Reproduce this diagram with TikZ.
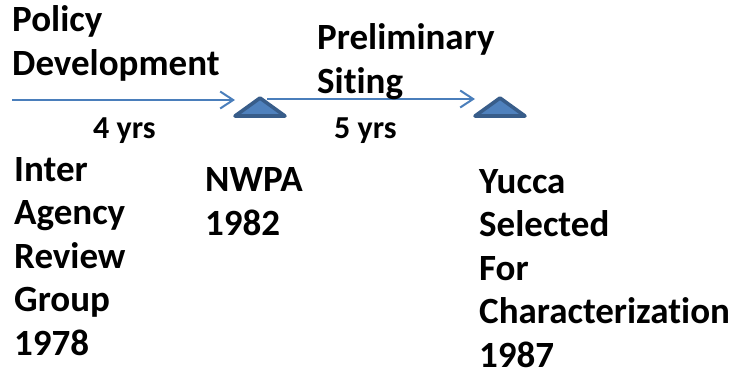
\documentclass[tikz,border=0pt]{standalone}
\usepackage{fontspec}
\setmainfont{Carlito}[Ligatures=NoCommon]
\usetikzlibrary{arrows.meta}
\definecolor{lineblue}{HTML}{4A7EBB}
\definecolor{triblue}{HTML}{4F81BD}
\definecolor{triedge}{HTML}{385D8A}
\tikzset{
  big/.style={font=\fontsize{37}{43.5}\selectfont\bfseries, inner sep=0pt, align=left, anchor=base west},
  small/.style={font=\fontsize{32}{36}\selectfont\bfseries, inner sep=0pt, anchor=base west},
  span/.style={lineblue, line width=2pt, -{Straight Barb[length=13pt,width=17pt]}},
  mark tri/.style={fill=triblue, draw=triedge, line width=3.6pt, line join=round}
}
\begin{document}
\begin{tikzpicture}[x=1pt,y=-1pt]
\useasboundingbox (0,0) rectangle (736,378);

% milestones
\draw[mark tri] (235,116) -- (260,98) -- (285,116) -- cycle;
\draw[mark tri] (475,116) -- (500,98) -- (525,116) -- cycle;

\coordinate (start) at (12,100);
\coordinate (nwpa) at (235,100);
\coordinate (nwpa end) at (267,99);
\coordinate (yucca) at (475,99);
\draw[span] (start) -- (nwpa);
\draw[span] (nwpa end) -- (yucca);

% labels (anchor is the baseline of the last line)
\node[big] (policy) at (12,75) {Policy\\Development};
\node[big] (siting) at (317,93) {Preliminary\\Siting};

\node[small] (four) at (93,138) {4 yrs};
\node[small] (five) at (334,138) {5 yrs};

\node[big] (irg) at (14,355) {Inter\\Agency\\Review\\Group\\1978};
\node[big] (nwpa text) at (205,235) {NWPA\\1982};
\node[big] (yucca text) at (479,367) {Yucca\\Selected\\For\\Characterization\\1987};
\end{tikzpicture}
\end{document}
